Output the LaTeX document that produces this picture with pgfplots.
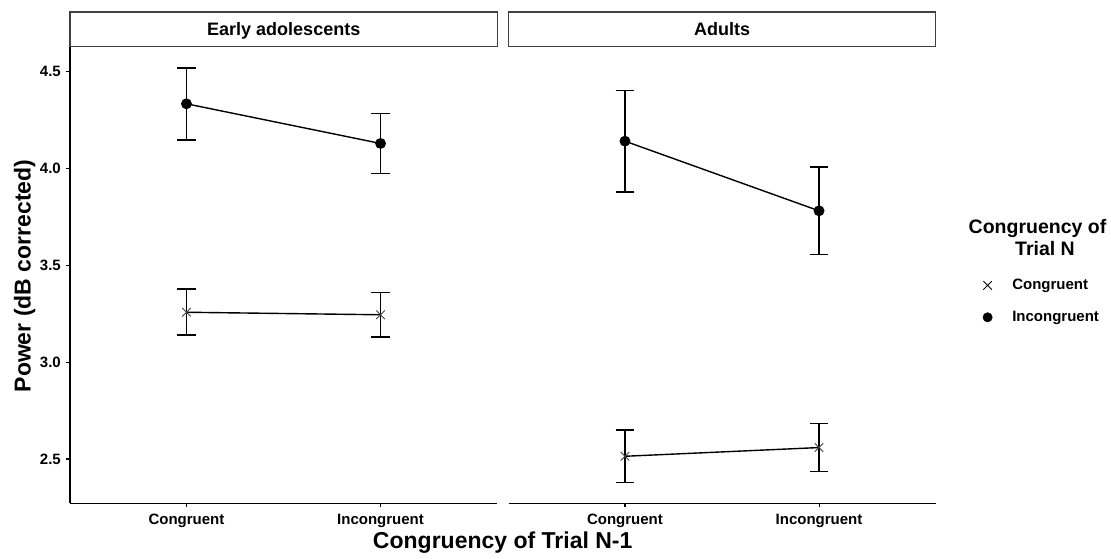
\documentclass[border=0pt]{standalone}
\usepackage{fontspec}
\setmainfont{Liberation Sans}
\usepackage{pgfplots}
\usepackage{pgfplotstable}
\pgfplotsset{compat=1.18}

% x: 1 = Congruent, 2 = Incongruent (congruency of trial N-1)
\pgfplotstableread{
x  y      err
1  3.258  0.119
2  3.245  0.115
}\adolCong
\pgfplotstableread{
x  y      err
1  4.335  0.186
2  4.130  0.155
}\adolIncong
\pgfplotstableread{
x  y      err
1  2.514  0.136
2  2.559  0.124
}\adultCong
\pgfplotstableread{
x  y      err
1  4.142  0.262
2  3.782  0.225
}\adultIncong

\newcommand\tickfont{\fontsize{15}{17}\selectfont\bfseries}

\pgfplotsset{
  panel/.style={
    scale only axis, width=427pt, height=456.8pt,
    anchor=south west, clip=false,
    xmin=0.4, xmax=2.6, ymin=2.27, ymax=4.63,
    xtick={1,2}, xticklabels={Congruent,Incongruent},
    ytick={2.5,3,3.5,4,4.5}, yticklabels={2.5,3.0,3.5,4.0,4.5},
    tick align=outside, major tick length=4pt,
    tick style={black, line width=1.1pt},
    axis line style={black, line width=1.2pt, -},
    ticklabel style={font=\tickfont, text=black},
    xticklabel style={inner sep=6pt},
    yticklabel style={inner sep=5pt},
  },
  congline/.style={black, line width=1.4pt, mark=x, mark size=6pt,
    mark options={line width=0.9pt, black!75}},
  incongline/.style={black, line width=1.4pt, mark=*, mark size=4.7pt,
    mark options={black, fill=black}},
  ebars/.style={error bars/.cd, y dir=both, y explicit,
    error bar style={line width=1.7pt, black},
    error mark options={rotate=90, mark size=9.3pt, line width=1.7pt, black}},
  % legend key: a single mark, no line
  markonly/.style={legend image code/.code={\draw[##1] plot coordinates {(0pt,0pt)};}},
}

\begin{document}
\begin{tikzpicture}
\path[use as bounding box] (0,0) rectangle (1111pt,559pt);

% Early adolescents
\begin{axis}[panel, at={(70pt,55.5pt)},
  axis x line*=bottom, axis y line*=left]
\addplot[congline, ebars] table[x=x, y=y, y error=err] {\adolCong};
\addplot[incongline, ebars] table[x=x, y=y, y error=err] {\adolIncong};
\end{axis}

% Adults
\begin{axis}[panel, at={(508.5pt,55.5pt)},
  axis x line*=bottom, axis y line=none, ytick=\empty,
  legend style={draw=none, fill=none, inner sep=0pt, outer sep=0pt,
    at={(1.111,0.4905)}, anchor=north west,
    font=\fontsize{15}{17}\selectfont\bfseries,
    nodes={inner sep=0pt},
    row sep=20pt,
    /tikz/every odd column/.append style={column sep=20pt}},
  legend cell align=left]
\addlegendimage{markonly, black, mark=x, mark size=6pt, mark options={line width=0.9pt}}
\addlegendentry{Congruent}
\addlegendimage{markonly, black, mark=*, mark size=4.7pt}
\addlegendentry{Incongruent}
\addplot[forget plot, congline, ebars] table[x=x, y=y, y error=err] {\adultCong};
\addplot[forget plot, incongline, ebars] table[x=x, y=y, y error=err] {\adultIncong};
\end{axis}

% facet strips
\draw[black!75, line width=1.1pt, fill=white] (70pt,512.3pt) rectangle (497.5pt,547pt);
\draw[black!75, line width=1.1pt, fill=white] (508.5pt,512.3pt) rectangle (935.5pt,547pt);
\node[anchor=base, font=\fontsize{18}{20}\selectfont\bfseries] at (283.75pt,523pt) {Early adolescents};
\node[anchor=base, font=\fontsize{18}{20}\selectfont\bfseries] at (722pt,523pt) {Adults};

% axis titles
\node[anchor=base, font=\fontsize{23}{26}\selectfont\bfseries] at (502.7pt,10pt) {Congruency of Trial N-1};
\node[anchor=base, rotate=90, font=\fontsize{23}{26}\selectfont\bfseries] at (30.5pt,283pt) {Power (dB corrected)};

% legend title
\node[anchor=base, font=\fontsize{19.5}{22}\selectfont\bfseries] at (1037.5pt,325pt) {Congruency of};
\node[anchor=base, font=\fontsize{19.5}{22}\selectfont\bfseries] at (1045pt,303.7pt) {Trial N};
\end{tikzpicture}
\end{document}
